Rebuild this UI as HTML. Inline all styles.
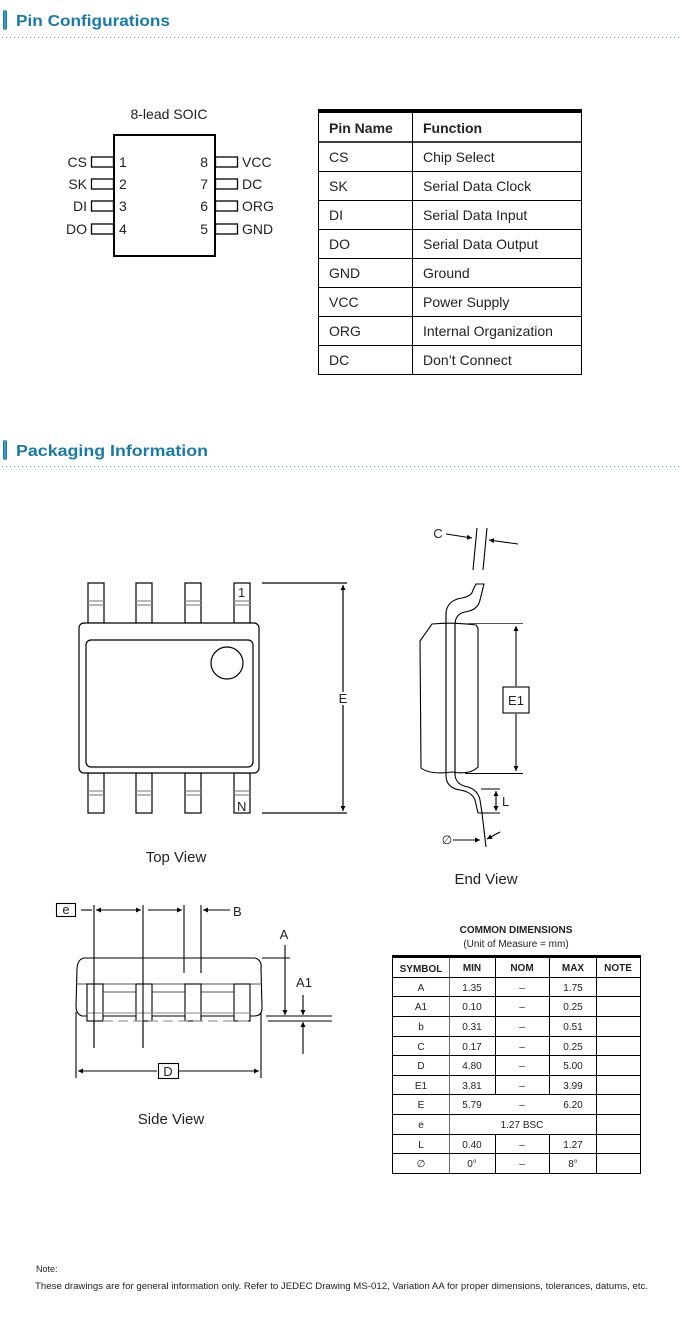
<!DOCTYPE html>
<html><head><meta charset="utf-8"><style>
html,body{margin:0;padding:0;background:#fff;width:680px;height:1319px;overflow:hidden}
svg{display:block;font-family:"Liberation Sans",Arial,sans-serif}
</style></head><body>
<svg width="680" height="1319" viewBox="0 0 680 1319" xmlns="http://www.w3.org/2000/svg">
<defs>
<marker id="ar" viewBox="0 0 10 10" refX="10" refY="5" markerWidth="7" markerHeight="5" orient="auto-start-reverse" markerUnits="userSpaceOnUse"><path d="M0,0L10,5L0,10z" fill="#000"/></marker>
<linearGradient id="bl" x1="0" x2="1"><stop offset="0" stop-color="#0a5f8a"/><stop offset="0.5" stop-color="#4fb0dc"/><stop offset="1" stop-color="#0a5f8a"/></linearGradient>
</defs>
<!-- headers -->
<rect x="3" y="10" width="4" height="20" rx="2" fill="url(#bl)"/>
<text x="16" y="26" font-size="16" font-weight="bold" fill="#1a7aa6" textLength="154" lengthAdjust="spacingAndGlyphs">Pin Configurations</text>
<line x1="2" y1="37.5" x2="680" y2="37.5" stroke="#6aa9c8" stroke-dasharray="1 3"/>
<rect x="3" y="440" width="4" height="20" rx="2" fill="url(#bl)"/>
<text x="16" y="456" font-size="16" font-weight="bold" fill="#1a7aa6" textLength="192" lengthAdjust="spacingAndGlyphs">Packaging Information</text>
<line x1="2" y1="466.5" x2="680" y2="466.5" stroke="#6aa9c8" stroke-dasharray="1 3"/>

<!-- pin diagram -->
<g font-size="14" fill="#222">
<text x="169" y="119" text-anchor="middle">8-lead SOIC</text>
<rect x="114" y="135" width="101" height="121" fill="none" stroke="#000" stroke-width="2"/>
<g fill="none" stroke="#000" stroke-width="1.3">
<rect x="91.5" y="157" width="22" height="10"/><rect x="91.5" y="179" width="22" height="10"/>
<rect x="91.5" y="201" width="22" height="10"/><rect x="91.5" y="224" width="22" height="10"/>
<rect x="215.5" y="157" width="22" height="10"/><rect x="215.5" y="179" width="22" height="10"/>
<rect x="215.5" y="201" width="22" height="10"/><rect x="215.5" y="224" width="22" height="10"/>
</g>
<g text-anchor="end"><text x="87" y="167">CS</text><text x="87" y="189">SK</text><text x="87" y="211">DI</text><text x="87" y="234">DO</text>
<text x="208" y="167">8</text><text x="208" y="189">7</text><text x="208" y="211">6</text><text x="208" y="234">5</text></g>
<text x="119" y="167">1</text><text x="119" y="189">2</text><text x="119" y="211">3</text><text x="119" y="234">4</text>
<text x="242" y="167">VCC</text><text x="242" y="189">DC</text><text x="242" y="211">ORG</text><text x="242" y="234">GND</text>
</g>

<!-- pin table -->
<g font-size="14" fill="#222">
<rect x="318" y="109" width="264" height="4" fill="#000"/>
<g stroke="#000" stroke-width="1">
<line x1="318.5" y1="113" x2="318.5" y2="375"/><line x1="412.5" y1="113" x2="412.5" y2="375"/><line x1="581.5" y1="113" x2="581.5" y2="375"/>
<line x1="318" y1="142" x2="582" y2="142" stroke-width="1.5"/>
<line x1="318" y1="171.5" x2="582" y2="171.5"/><line x1="318" y1="200.5" x2="582" y2="200.5"/>
<line x1="318" y1="229.5" x2="582" y2="229.5"/><line x1="318" y1="258.5" x2="582" y2="258.5"/>
<line x1="318" y1="287.5" x2="582" y2="287.5"/><line x1="318" y1="316.5" x2="582" y2="316.5"/>
<line x1="318" y1="345.5" x2="582" y2="345.5"/><line x1="318" y1="374.5" x2="582" y2="374.5"/>
</g>
<text x="329" y="133" font-weight="bold">Pin Name</text><text x="423" y="133" font-weight="bold">Function</text>
<text x="329" y="162">CS</text><text x="423" y="162">Chip Select</text>
<text x="329" y="191">SK</text><text x="423" y="191">Serial Data Clock</text>
<text x="329" y="220">DI</text><text x="423" y="220">Serial Data Input</text>
<text x="329" y="249">DO</text><text x="423" y="249">Serial Data Output</text>
<text x="329" y="278">GND</text><text x="423" y="278">Ground</text>
<text x="329" y="307">VCC</text><text x="423" y="307">Power Supply</text>
<text x="329" y="336">ORG</text><text x="423" y="336">Internal Organization</text>
<text x="329" y="365">DC</text><text x="423" y="365">Don’t Connect</text>
</g>

<!-- top view -->
<g fill="none" stroke="#000" stroke-width="1.2">
<rect x="88" y="583" width="16" height="40"/><line x1="88" y1="601" x2="104" y2="601" stroke="#888"/><line x1="88" y1="605" x2="104" y2="605" stroke="#888"/>
<rect x="136" y="583" width="16" height="40"/><line x1="136" y1="601" x2="152" y2="601" stroke="#888"/><line x1="136" y1="605" x2="152" y2="605" stroke="#888"/>
<rect x="185" y="583" width="16" height="40"/><line x1="185" y1="601" x2="201" y2="601" stroke="#888"/><line x1="185" y1="605" x2="201" y2="605" stroke="#888"/>
<rect x="234" y="583" width="16" height="40"/><line x1="234" y1="601" x2="250" y2="601" stroke="#888"/><line x1="234" y1="605" x2="250" y2="605" stroke="#888"/>
<rect x="88" y="773" width="16" height="40"/><line x1="88" y1="791" x2="104" y2="791" stroke="#888"/><line x1="88" y1="795" x2="104" y2="795" stroke="#888"/>
<rect x="136" y="773" width="16" height="40"/><line x1="136" y1="791" x2="152" y2="791" stroke="#888"/><line x1="136" y1="795" x2="152" y2="795" stroke="#888"/>
<rect x="185" y="773" width="16" height="40"/><line x1="185" y1="791" x2="201" y2="791" stroke="#888"/><line x1="185" y1="795" x2="201" y2="795" stroke="#888"/>
<rect x="234" y="773" width="16" height="40"/><line x1="234" y1="791" x2="250" y2="791" stroke="#888"/><line x1="234" y1="795" x2="250" y2="795" stroke="#888"/>
<rect x="79" y="623" width="180" height="150" rx="5" fill="#fff"/>
<rect x="86" y="640" width="167" height="127" rx="5"/>
<circle cx="227" cy="663" r="16"/>
<line x1="262" y1="583" x2="347" y2="583"/><line x1="262" y1="813" x2="347" y2="813"/>
<line x1="343" y1="585" x2="343" y2="692" marker-start="url(#ar)"/><line x1="343" y1="705" x2="343" y2="811" marker-end="url(#ar)"/>
</g>
<g font-size="13" fill="#222">
<text x="238" y="597">1</text><text x="237" y="811">N</text>
<text x="343" y="703" text-anchor="middle">E</text>
<text x="176" y="862" text-anchor="middle" font-size="15">Top View</text>
</g>

<!-- end view -->
<g fill="none" stroke="#000" stroke-width="1.1">
<line x1="477" y1="528" x2="473" y2="570"/><line x1="487" y1="528" x2="483" y2="570"/>
<line x1="446" y1="534" x2="472" y2="538" marker-end="url(#ar)"/><line x1="518" y1="544" x2="489" y2="540" marker-end="url(#ar)"/>
<path d="M476,584 L484,584 L480,600 Q478,610 465,612 Q455,614 455,625 L455,775 Q456,785 468,787 Q478,790 480,800 L482,813 L478,813 L475,800 Q472,792 460,790 Q446,788 446,775 L446,612 Q448,600 462,598 Q472,596 473,590 Z" fill="#fff"/>
<path d="M420,641 L432,624 Q452,622 476,625 L478,628 L478,767 Q470,775 452,772 Q430,775 421,768 Z" fill="none"/>
<path d="M446,612 L446,775 M455,625 L455,775"/>
<line x1="468" y1="623.5" x2="523" y2="623.5" stroke="#555"/><line x1="465" y1="773.5" x2="523" y2="773.5"/>
<line x1="516" y1="626" x2="516" y2="686" marker-start="url(#ar)"/><line x1="516" y1="714" x2="516" y2="771" marker-end="url(#ar)"/>
<rect x="503" y="687" width="26" height="26"/>
<line x1="481" y1="789" x2="500" y2="789"/><line x1="482" y1="813" x2="500" y2="813"/>
<line x1="496" y1="791" x2="496" y2="811" marker-start="url(#ar)" marker-end="url(#ar)"/>
<line x1="482" y1="813" x2="486" y2="847"/>
<line x1="453" y1="840" x2="480" y2="840" marker-end="url(#ar)"/><line x1="500" y1="832" x2="487" y2="839" marker-end="url(#ar)"/>
</g>
<g font-size="13" fill="#222">
<text x="438" y="538" text-anchor="middle">C</text>
<text x="516" y="705" text-anchor="middle">E1</text>
<text x="502" y="806">L</text>
<text x="447" y="844" text-anchor="middle" font-size="12">∅</text>
<text x="486" y="884" text-anchor="middle" font-size="15">End View</text>
</g>

<!-- side view -->
<g fill="none" stroke="#000" stroke-width="1.1">
<rect x="56.5" y="903.5" width="19" height="13"/>
<line x1="94" y1="905" x2="94" y2="1048"/><line x1="143" y1="905" x2="143" y2="1048"/>
<line x1="184" y1="905" x2="184" y2="973"/><line x1="201" y1="905" x2="201" y2="973"/>
<line x1="81" y1="910" x2="92" y2="910"/>
<line x1="96" y1="910" x2="141" y2="910" marker-start="url(#ar)" marker-end="url(#ar)"/>
<line x1="148" y1="910" x2="182" y2="910" marker-end="url(#ar)"/>
<line x1="230" y1="910" x2="203" y2="910" marker-end="url(#ar)"/>
<path d="M84,958 L255,958 Q262,960 261,968 L262,1008 Q262,1016 254,1016 L82,1016 Q76,1014 76,1006 L77,968 Q78,959 84,958 Z"/>
<line x1="76" y1="984" x2="262" y2="984" stroke="#555"/>
<line x1="94" y1="992" x2="250" y2="992" stroke="#555"/>
<rect x="87" y="984" width="16" height="37" fill="#fff"/><rect x="136" y="984" width="16" height="37" fill="#fff"/>
<rect x="185" y="984" width="16" height="37" fill="#fff"/><rect x="234" y="984" width="16" height="37" fill="#fff"/>
<line x1="87" y1="1013" x2="250" y2="1013" stroke="#888"/>
<line x1="94" y1="984" x2="94" y2="1048"/><line x1="143" y1="984" x2="143" y2="1048"/>
<line x1="103" y1="1021" x2="250" y2="1021" stroke="#888" stroke-dasharray="10 5"/>
<line x1="262" y1="958" x2="290" y2="958"/>
<line x1="266" y1="1016" x2="332" y2="1016"/><line x1="268" y1="1021" x2="332" y2="1021"/>
<line x1="285" y1="945" x2="285" y2="1015" marker-end="url(#ar)"/>
<line x1="303" y1="995" x2="303" y2="1015" marker-end="url(#ar)"/>
<line x1="303" y1="1054" x2="303" y2="1022" marker-end="url(#ar)"/>
<line x1="76" y1="1012" x2="76" y2="1078"/><line x1="261" y1="1012" x2="261" y2="1078"/>
<line x1="78" y1="1071" x2="157" y2="1071" marker-start="url(#ar)"/><line x1="179" y1="1071" x2="259" y2="1071" marker-end="url(#ar)"/>
<rect x="158.5" y="1063.5" width="20" height="15"/>
</g>
<g font-size="13" fill="#222">
<text x="66" y="914" text-anchor="middle">e</text>
<text x="233" y="916">B</text>
<text x="284" y="939" text-anchor="middle">A</text>
<text x="304" y="987" text-anchor="middle">A1</text>
<text x="168" y="1076" text-anchor="middle">D</text>
<text x="171" y="1124" text-anchor="middle" font-size="15">Side View</text>
</g>

<!-- dimension table -->
<g font-size="10" fill="#222" text-anchor="middle">
<text x="516" y="933" font-weight="bold">COMMON DIMENSIONS</text>
<text x="516" y="947">(Unit of Measure = mm)</text>
<rect x="392" y="955" width="249" height="3" fill="#000"/>
<g stroke="#000" stroke-width="1" fill="none">
<line x1="392.5" y1="958" x2="392.5" y2="1174"/><line x1="449.5" y1="958" x2="449.5" y2="1174" stroke="#666"/>
<line x1="495.5" y1="958" x2="495.5" y2="1094"/><line x1="495.5" y1="1134" x2="495.5" y2="1174"/>
<line x1="549.5" y1="958" x2="549.5" y2="1094"/><line x1="549.5" y1="1134" x2="549.5" y2="1174"/>
<line x1="596.5" y1="958" x2="596.5" y2="1174"/><line x1="640.5" y1="958" x2="640.5" y2="1174"/>
<line x1="392" y1="977.5" x2="641" y2="977.5"/><line x1="392" y1="996.5" x2="641" y2="996.5"/>
<line x1="392" y1="1016.5" x2="641" y2="1016.5"/><line x1="392" y1="1036.5" x2="641" y2="1036.5"/>
<line x1="392" y1="1055.5" x2="641" y2="1055.5"/><line x1="392" y1="1075.5" x2="641" y2="1075.5"/>
<line x1="392" y1="1094.5" x2="641" y2="1094.5"/><line x1="392" y1="1114.5" x2="641" y2="1114.5"/>
<line x1="392" y1="1134.5" x2="641" y2="1134.5"/><line x1="392" y1="1153.5" x2="641" y2="1153.5"/>
<line x1="392" y1="1173.5" x2="641" y2="1173.5"/>
</g>
<g font-weight="bold"><text x="421" y="972">SYMBOL</text><text x="472" y="971">MIN</text><text x="522" y="971">NOM</text><text x="573" y="971">MAX</text><text x="618" y="971">NOTE</text></g>
<text x="421" y="991">A</text><text x="472" y="991">1.35</text><text x="522" y="991">–</text><text x="573" y="991">1.75</text>
<text x="421" y="1010">A1</text><text x="472" y="1010">0.10</text><text x="522" y="1010">–</text><text x="573" y="1010">0.25</text>
<text x="421" y="1030">b</text><text x="472" y="1030">0.31</text><text x="522" y="1030">–</text><text x="573" y="1030">0.51</text>
<text x="421" y="1050">C</text><text x="472" y="1050">0.17</text><text x="522" y="1050">–</text><text x="573" y="1050">0.25</text>
<text x="421" y="1069">D</text><text x="472" y="1069">4.80</text><text x="522" y="1069">–</text><text x="573" y="1069">5.00</text>
<text x="421" y="1089">E1</text><text x="472" y="1089">3.81</text><text x="522" y="1089">–</text><text x="573" y="1089">3.99</text>
<text x="421" y="1108">E</text><text x="472" y="1108">5.79</text><text x="522" y="1108">–</text><text x="573" y="1108">6.20</text>
<text x="421" y="1128">e</text><text x="522" y="1128">1.27 BSC</text>
<text x="421" y="1148">L</text><text x="472" y="1148">0.40</text><text x="522" y="1148">–</text><text x="573" y="1148">1.27</text>
<text x="421" y="1167">∅</text><text x="472" y="1167">0°</text><text x="522" y="1167">–</text><text x="573" y="1167">8°</text>
</g>

<g font-size="9" fill="#222">
<text x="36" y="1272">Note:</text>
<text x="35" y="1289" textLength="613" lengthAdjust="spacingAndGlyphs">These drawings are for general information only. Refer to JEDEC Drawing MS-012, Variation AA for proper dimensions, tolerances, datums, etc.</text>
</g>
</svg>
</body></html>
